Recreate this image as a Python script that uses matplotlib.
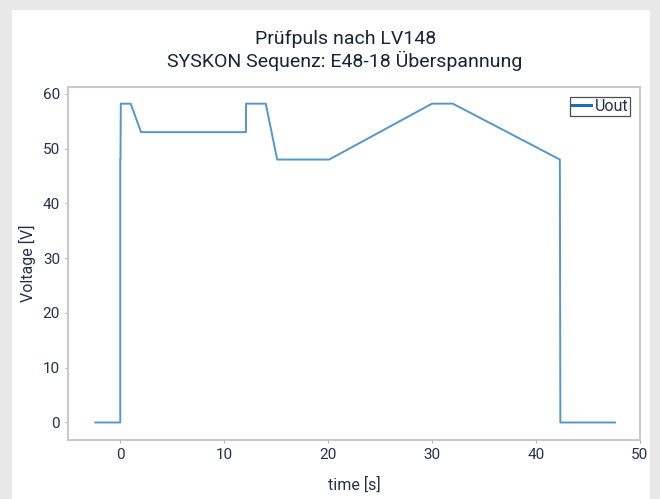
import matplotlib
matplotlib.use("Agg")
import matplotlib.pyplot as plt
from matplotlib.patches import Rectangle
from matplotlib import font_manager

# --- Data ---
time_s = [-2.4, 0.0, 0.0, 0.02, 0.05, 1.0, 2.0, 12.1, 12.1, 14.0, 15.1, 20.1, 30.0, 32.0, 42.3, 42.35, 47.6]
uout_v = [0.0, 0.0, 48.0, 48.0, 58.2, 58.2, 53.0, 53.0, 58.2, 58.2, 48.0, 48.0, 58.2, 58.2, 48.0, 0.0, 0.0]
series_name = "Uout"
title_lines = ["Prüfpuls nach LV148", "SYSKON Sequenz: E48-18 Überspannung"]
x_ticks = [0, 10, 20, 30, 40, 50]
y_ticks = [0, 10, 20, 30, 40, 50, 60]

# condensed font if there is one, else Roboto (narrower than DejaVu)
names = {f.name for f in font_manager.fontManager.ttflist}
if "Liberation Sans Narrow" in names:
    plt.rcParams["font.family"] = ["Liberation Sans Narrow", "DejaVu Sans"]
else:
    plt.rcParams["font.family"] = ["Roboto", "DejaVu Sans"]

txt = "#23324a"
fig = plt.figure(figsize=(6.6, 4.99), dpi=100, facecolor="#e8e8e8")
# white panel behind everything
fig.patches.append(Rectangle((12 / 660, 0), (650 - 12) / 660, 1 - 10 / 499,
                             transform=fig.transFigure, facecolor="white",
                             edgecolor="none", zorder=-10))

ax = fig.add_axes([0.1035, 0.1182, 0.866, 0.707])
ax.set_zorder(5)
ax.plot(time_s, uout_v, color="#5497c8", lw=1.4, label=series_name)

ax.set_xlim(-5, 50)
ax.set_ylim(-3.2, 61.2)
ax.set_xticks(x_ticks)
ax.set_yticks(y_ticks)
ax.tick_params(colors="#b0b0b0", labelcolor=txt, labelsize=11, length=2.5, width=0.8)
for s in ax.spines.values():
    s.set_color("#c9c9c9")
    s.set_linewidth(1.5)

ax.set_xlabel("time [s]", fontsize=11.5, color=txt, labelpad=10)
ax.set_ylabel("Voltage [V]", fontsize=11.5, color=txt, labelpad=5)

fig.text(0.523, 0.922, title_lines[0], ha="center", va="center", fontsize=14, color="#16243a")
fig.text(0.523, 0.877, title_lines[1], ha="center", va="center", fontsize=14, color="#16243a")

leg = ax.legend(loc="upper right", fontsize=11.5, frameon=True, fancybox=False,
                handlelength=1.2, handletextpad=0.25, borderpad=0.12,
                borderaxespad=0.6, labelcolor=txt)
leg.get_frame().set_edgecolor("#222222")
leg.get_frame().set_linewidth(0.9)
leg.get_lines()[0].set_color("#1f6fb0")
leg.get_lines()[0].set_linewidth(2.2)

fig.savefig("out.png", dpi=100, facecolor=fig.get_facecolor())
